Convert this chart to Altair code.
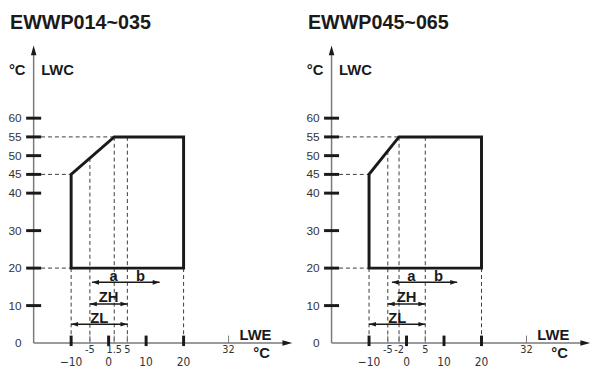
import altair as alt
import pandas as pd

# ---------------- data ----------------
titles = ["EWWP014~035", "EWWP045~065"]
corner_lwe = [1.5, -2]                 # LWE where LWC reaches its maximum
lwe_min, lwe_max = -10, 20
lwc_min, lwc_knee, lwc_max = 20, 45, 55
y_tick_values = [10, 20, 30, 40, 45, 50, 55, 60]
y_label_values = [0, 10, 20, 30, 40, 45, 50, 55, 60]
x_major = [-10, 0, 10, 20]
x_major_labels = ["\u221210", "0", "10", "20"]
x_minor = [[-5, 1.5, 5, 32], [-5, -2, 5, 32]]
x_minor_labels = [["-5", "1.5", "5", "32"], ["-5", "-2", "5", "32"]]
slope_guide_lwe = -5
extra_guide_lwe = 5
ab_arrow = [[-4.4, 13.6], [-3.9, 13.5]]
ab_level = 16.2
zh_arrow = [-5, 5]
zh_level = 10.4
zl_arrow = [-10, 5]
zl_level = 5.0
arrow_labels = ["a", "b", "ZH", "ZL"]
arrow_label_x = [1.3, 8.5, 0.0, -2.5]
arrow_label_y = [16.6, 16.6, 10.9, 5.4]
axis_x0, axis_x_end, axis_y_end = -20, 49, 79.4

# ---------------- layout constants ----------------
K = 3.8                     # px per unit (both axes)
W, H = 591, 361
XMIN = -102 / K
XMAX = XMIN + W / K
YMAX = 337.2 / K
YMIN = YMAX - H / K
OFFSET = 302 / K            # shift of the second panel

xs = alt.Scale(domain=[XMIN, XMAX], nice=False, zero=False)
ys = alt.Scale(domain=[YMIN, YMAX], nice=False, zero=False)


def X(f="x"):
    return alt.X(f"{f}:Q", scale=xs, axis=None)


def Y(f="y"):
    return alt.Y(f"{f}:Q", scale=ys, axis=None)


# ---------------- build tables ----------------
env_rows, dash_rows, ytick_rows, ylab_rows = [], [], [], []
xmaj_rows, xmin_rows, txt_rows, arrow_rows, head_rows = [], [], [], [], []
for p in range(2):
    off = p * OFFSET
    c = corner_lwe[p]
    pts = [(5, lwc_min), (lwe_max, lwc_min), (lwe_max, lwc_max), (c, lwc_max),
           (lwe_min, lwc_knee), (lwe_min, lwc_min), (5, lwc_min)]
    for i, (a, b) in enumerate(pts):
        env_rows.append({"panel": p, "order": i, "x": a + off, "y": b})
    slope_y = lwc_knee + (slope_guide_lwe - lwe_min) * (lwc_max - lwc_knee) / (c - lwe_min)
    dashes = [
        (-18, lwc_max, c, lwc_max),
        (-18, lwc_knee, lwe_min, lwc_knee),
        (-18, lwc_min, lwe_min, lwc_min),
        (lwe_min, lwc_min, lwe_min, 0),
        (slope_guide_lwe, slope_y, slope_guide_lwe, 0),
        (c, lwc_max, c, 0),
        (extra_guide_lwe, lwc_max, extra_guide_lwe, 0),
        (lwe_max, lwc_min, lwe_max, 0),
    ]
    for a, b, a2, b2 in dashes:
        dash_rows.append({"x": a + off, "y": b, "x2": a2 + off, "y2": b2})
    for v in y_tick_values:
        ytick_rows.append({"x": -22 + off, "x2": -18 + off, "y": v})
    for v in y_label_values:
        ylab_rows.append({"x": -23.2 + off, "y": v, "t": str(v)})
    for v, t in zip(x_major, x_major_labels):
        xmaj_rows.append({"x": v + off, "y": -0.8, "y2": 2.0, "ly": -4.95, "t": t})
    for v, t in zip(x_minor[p], x_minor_labels[p]):
        xmin_rows.append({"x": v + off, "y": 0, "y2": 2.0, "ly": -1.95, "t": t})
    for (a, b), lvl in [(ab_arrow[p], ab_level), (zh_arrow, zh_level), (zl_arrow, zl_level)]:
        arrow_rows.append({"x": a + off, "x2": b + off, "y": lvl})
        head_rows.append({"x": a + off, "y": lvl, "dir": "L"})
        head_rows.append({"x": b + off, "y": lvl, "dir": "R"})
    for t, a, b in zip(arrow_labels, arrow_label_x, arrow_label_y):
        txt_rows.append({"x": a + off, "y": b, "t": t})

env = pd.DataFrame(env_rows)
dash = pd.DataFrame(dash_rows)
yt = pd.DataFrame(ytick_rows)
yl = pd.DataFrame(ylab_rows)
xmj = pd.DataFrame(xmaj_rows)
xmn = pd.DataFrame(xmin_rows)
arr = pd.DataFrame(arrow_rows)
heads = pd.DataFrame(head_rows)
atxt = pd.DataFrame(txt_rows)

axes_v = pd.DataFrame([{"x": axis_x0 + p * OFFSET, "y": 0, "y2": axis_y_end - 2.4} for p in range(2)])
axes_h = pd.DataFrame([{"x": axis_x0 + p * OFFSET, "x2": axis_x_end - 2.4 + p * OFFSET, "y": 0} for p in range(2)])
tip_up = pd.DataFrame([{"x": axis_x0 + p * OFFSET, "y": axis_y_end} for p in range(2)])
tip_right = pd.DataFrame([{"x": axis_x_end + p * OFFSET, "y": 0} for p in range(2)])

title_df = pd.DataFrame([{"x": -26.3 + p * OFFSET, "y": 83.66, "t": titles[p]} for p in range(2)])
lwc_df = pd.DataFrame([{"x": -18.0 + p * OFFSET, "y": 71.55, "t": "LWC"} for p in range(2)])
degc_top = pd.DataFrame([{"x": -26.6 + p * OFFSET, "y": 71.55, "t": "°C"} for p in range(2)])
lwe_df = pd.DataFrame([{"x": 34.9 + p * OFFSET, "y": 0.92, "t": "LWE"} for p in range(2)])
degc_bot = pd.DataFrame([{"x": 38.6 + p * OFFSET, "y": -4.08, "t": "°C"} for p in range(2)])

BLACK = "#1a1a1a"
GREY = "#7a7a7a"
TXT = "#333333"
NARROW = "Liberation Sans Narrow, Arial Narrow, DejaVu Sans Condensed, Liberation Sans"
SANS = "Liberation Sans, Arial, Helvetica"

layers = []
layers.append(alt.Chart(axes_v).mark_rule(color=GREY, strokeWidth=1.5).encode(x=X(), y=Y(), y2="y2:Q"))
layers.append(alt.Chart(axes_h).mark_rule(color=GREY, strokeWidth=1.5).encode(x=X(), x2="x2:Q", y=Y()))
layers.append(alt.Chart(tip_up).mark_point(shape="M0,0 L-0.28,1 L0.28,1 Z", size=400, filled=True,
                                            color=BLACK, opacity=1, strokeWidth=0).encode(x=X(), y=Y()))
layers.append(alt.Chart(tip_right).mark_point(shape="M0,0 L-1,-0.28 L-1,0.28 Z", size=400, filled=True,
                                               color=BLACK, opacity=1, strokeWidth=0).encode(x=X(), y=Y()))
layers.append(alt.Chart(dash).mark_rule(color="#3a3a3a", strokeWidth=1, strokeDash=[4, 3]).encode(
    x=X(), x2="x2:Q", y=Y(), y2="y2:Q"))
layers.append(alt.Chart(yt).mark_rule(color=BLACK, strokeWidth=3).encode(x=X(), x2="x2:Q", y=Y()))
layers.append(alt.Chart(xmn).mark_rule(color=GREY, strokeWidth=1).encode(x=X(), y=Y(), y2="y2:Q"))
layers.append(alt.Chart(xmj).mark_rule(color=BLACK, strokeWidth=3).encode(x=X(), y=Y(), y2="y2:Q"))
layers.append(alt.Chart(env).mark_line(color=BLACK, strokeWidth=3, strokeJoin="miter").encode(
    x=X(), y=Y(), detail="panel:N", order=alt.Order("order:Q")))
layers.append(alt.Chart(arr).mark_rule(color=BLACK, strokeWidth=1.5).encode(x=X(), x2="x2:Q", y=Y()))
layers.append(alt.Chart(heads[heads["dir"] == "R"]).mark_point(
    shape="M0,0 L-1,-0.33 L-1,0.33 Z", size=196, filled=True, color=BLACK, opacity=1, strokeWidth=0
).encode(x=X(), y=Y()))
layers.append(alt.Chart(heads[heads["dir"] == "L"]).mark_point(
    shape="M0,0 L1,-0.33 L1,0.33 Z", size=196, filled=True, color=BLACK, opacity=1, strokeWidth=0
).encode(x=X(), y=Y()))
layers.append(alt.Chart(yl).mark_text(align="right", baseline="middle", font=SANS, fontSize=12,
                                      color=TXT).encode(x=X(), y=Y(), text="t:N"))
layers.append(alt.Chart(xmj).mark_text(align="center", baseline="middle", font=NARROW, fontSize=12,
                                       color=TXT).encode(x=X(), y=Y("ly"), text="t:N"))
layers.append(alt.Chart(xmn).mark_text(align="center", baseline="middle", font=NARROW, fontSize=11,
                                       color=TXT).encode(x=X(), y=Y("ly"), text="t:N"))
layers.append(alt.Chart(atxt).mark_text(align="center", baseline="alphabetic", font=SANS, fontSize=15,
                                        fontWeight="bold", color=BLACK).encode(x=X(), y=Y(), text="t:N"))
layers.append(alt.Chart(title_df).mark_text(align="left", baseline="alphabetic", font=SANS, fontSize=20,
                                            fontWeight="bold", color=BLACK).encode(x=X(), y=Y(), text="t:N"))
for df in (lwc_df, lwe_df, degc_top, degc_bot):
    layers.append(alt.Chart(df).mark_text(align="left", baseline="alphabetic", font=SANS, fontSize=15,
                                          fontWeight="bold", color=BLACK).encode(x=X(), y=Y(), text="t:N"))

chart = alt.layer(*layers).properties(
    width=W, height=H,
    padding={"left": 0, "top": 0, "right": 0, "bottom": 0},
    autosize=alt.AutoSizeParams(type="none"),
).configure_view(strokeWidth=0)

chart.save("out.html", embed_options={"renderer": "svg", "actions": False})
